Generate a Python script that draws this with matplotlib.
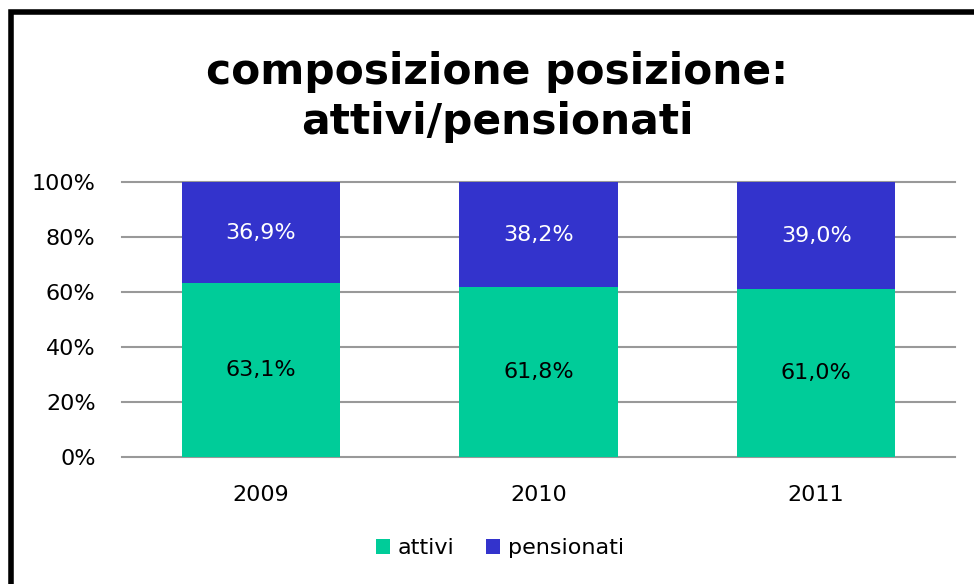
import matplotlib.pyplot as plt
import matplotlib.patches as mpatches
import numpy as np

years = ['2009', '2010', '2011']
attivi = [63.1, 61.8, 61.0]
pensionati = [36.9, 38.2, 39.0]
series_names = ['attivi', 'pensionati']

green = '#00CC99'
blue = '#3333CC'

W, H = 974, 584
fig = plt.figure(figsize=(W / 100, H / 100), dpi=100)
plt.rcParams['font.family'] = 'DejaVu Sans'

# plot area in pixels: x 122..955, y 182..457
ax = fig.add_axes([122 / W, 1 - 457 / H, (955 - 122) / W, (457 - 182) / H])

x = np.arange(len(years))
width = 0.57
b1 = ax.bar(x, attivi, width, color=green, label=series_names[0], zorder=3)
b2 = ax.bar(x, pensionati, width, bottom=attivi, color=blue, label=series_names[1], zorder=3)

for i in range(len(years)):
    ax.text(x[i], attivi[i] / 2, f'{attivi[i]:.1f}%'.replace('.', ','),
            ha='center', va='center', fontsize=16, color='black', zorder=4)
    ax.text(x[i], attivi[i] + pensionati[i] / 2, f'{pensionati[i]:.1f}%'.replace('.', ','),
            ha='center', va='center', fontsize=16, color='white', zorder=4)

ax.set_xlim(-0.5, 2.5)
ax.set_ylim(0, 100)
ax.set_yticks(np.arange(0, 101, 20))
ax.set_yticklabels([f'{v}%' for v in range(0, 101, 20)], fontsize=16)
ax.set_xticks(x)
ax.set_xticklabels(years, fontsize=16)
ax.tick_params(axis='y', length=0, pad=19)
ax.tick_params(axis='x', length=0, pad=20)
ax.yaxis.grid(True, color='#999999', linewidth=1.5, zorder=0)
for gl in ax.get_ygridlines():
    gl.set_clip_on(False)
for s in ax.spines.values():
    s.set_visible(False)

fig.text(497 / W, 1 - 97 / H, 'composizione posizione:\nattivi/pensionati',
         ha='center', va='center', fontsize=30.5, fontweight='bold', linespacing=1.22)

fig.legend(handles=[b1, b2], labels=series_names, loc='center',
           bbox_to_anchor=(500 / W, 1 - 548 / H), ncol=2, frameon=False,
           fontsize=16, handlelength=0.65, handleheight=0.65, handletextpad=0.35,
           columnspacing=1.4)

# outer chart frame (cropped on right and bottom)
fig.patches.append(mpatches.Rectangle((10.5 / W, -0.1), 1.2, 1.1 - 11.5 / H,
                                      transform=fig.transFigure, fill=False,
                                      edgecolor='black', linewidth=4))

fig.savefig('out.png', dpi=100)
